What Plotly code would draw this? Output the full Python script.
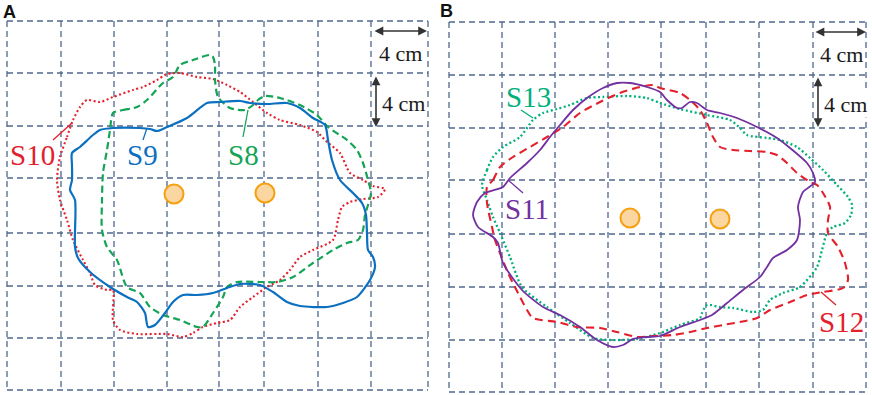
import plotly.graph_objects as go

# ---------------- data (traced coordinates, image units) ----------------
A_grid_x = [7, 61, 114, 167, 219, 264, 318, 371, 428]
A_grid_y = [21, 73, 126, 178, 233, 286, 338, 390]
B_grid_x = [449, 502, 555, 608, 661, 706, 759, 813, 866]
B_grid_y = [22, 75, 128, 180, 234, 287, 340, 392]

S9 = [(72,153),(80,147),(93,135),(100,130),(113,128),(140,128),(150,129),(157,131),(167,127),(187,118),
      (207,103),(220,102),(240,101),(250,103),(267,104),(287,103),(300,108),(313,118),(325,125),(328,140),
      (332,160),(340,180),(353,193),(362,203),(366,215),(367,233),(368,250),(373,257),(375,267),(370,280),
      (357,297),(343,303),(327,307),(300,306),(287,302),(273,292),(260,285),(240,284),(227,288),(213,293),
      (197,295),(183,295),(173,302),(165,313),(155,325),(148,327),(145,313),(137,302),(127,297),(110,287),
      (90,272),(78,258),(75,247),(75,200),(70,190),(72,180),(72,165)]
S8 = [(113,113),(123,110),(137,107),(147,100),(163,83),(173,77),(180,65),(193,60),(210,55),(213,57),
      (215,65),(215,80),(218,97),(230,108),(245,110),(253,105),(258,100),(265,96),(280,98),(300,105),
      (317,115),(328,127),(347,140),(357,150),(363,163),(368,180),(371,193),(368,205),(365,215),(363,230),
      (358,240),(347,243),(333,250),(313,263),(293,277),(277,282),(260,282),(237,282),(227,287),(223,297),
      (213,313),(203,327),(197,327),(180,320),(163,315),(150,307),(140,293),(127,287),(117,260),(107,247),
      (102,230),(102,200),(103,173),(107,150),(110,130)]
S10 = [(60,157),(67,137),(73,120),(80,107),(87,100),(100,102),(113,97),(133,90),(143,87),(157,80),
       (167,74),(180,73),(197,77),(213,79),(227,85),(240,92),(253,102),(267,113),(280,120),(300,125),
       (317,132),(327,142),(340,153),(350,173),(363,180),(373,186),(385,189),(378,197),(363,199),(350,202),
       (342,207),(338,220),(333,240),(313,250),(300,257),(290,270),(280,280),(267,287),(253,297),(240,307),
       (230,320),(217,323),(203,327),(193,333),(183,337),(167,334),(137,334),(120,330),(113,320),(113,290),
       (107,290),(95,285),(90,273),(83,260),(73,240),(67,220),(60,200),(57,180)]
S11 = [(485,193),(503,187),(510,178),(527,163),(540,150),(550,137),(560,125),(573,110),(587,98),(603,88),
       (617,83),(630,83),(647,87),(660,92),(667,100),(677,108),(682,108),(690,102),(697,103),(707,110),
       (720,113),(737,118),(757,127),(777,138),(790,148),(807,163),(813,173),(815,182),(803,192),(798,207),
       (800,220),(797,240),(787,250),(773,258),(767,267),(760,277),(743,290),(727,303),(712,315),(700,320),
       (680,327),(660,336),(647,337),(633,339),(623,345),(613,347),(597,340),(580,327),(560,315),(543,307),
       (522,290),(503,263),(498,243),(493,237),(478,227),(473,215),(477,202)]
S12 = [(487,187),(493,180),(500,167),(513,157),(530,147),(547,137),(563,127),(580,113),(600,102),(620,93),
       (640,87),(653,85),(660,88),(680,93),(690,100),(700,110),(707,123),(713,137),(720,147),(733,150),
       (750,151),(767,152),(777,155),(787,163),(797,173),(810,182),(817,185),(823,193),(830,207),(828,220),
       (828,233),(838,247),(845,263),(848,280),(843,288),(823,292),(807,295),(790,302),(770,310),(757,318),
       (740,322),(723,325),(707,328),(690,332),(673,335),(653,336),(637,337),(617,332),(600,328),(577,327),
       (557,322),(533,318),(527,310),(518,293),(508,273),(500,253),(495,240),(492,227),(487,203)]
S13 = [(482,185),(487,170),(493,157),(503,147),(520,137),(533,120),(543,113),(557,109),(570,105),(587,98),
       (603,97),(627,96),(647,98),(660,103),(680,109),(707,115),(730,120),(740,128),(747,135),(767,138),
       (780,140),(797,147),(810,158),(823,170),(837,185),(848,197),(852,205),(851,215),(845,223),(833,227),
       (827,233),(822,250),(817,267),(800,287),(783,293),(770,300),(763,310),(753,312),(733,308),(720,307),
       (707,305),(702,313),(700,318),(680,325),(660,333),(637,339),(610,340),(593,338),(570,323),(547,307),
       (522,287),(510,257),(500,233),(493,217),(487,200)]

electrodes_x = [174, 265, 630, 720]
electrodes_y = [194, 193, 218, 219]

labels = ["S10", "S9", "S8", "S13", "S11", "S12"]
label_x = [32, 142, 243, 528, 527, 841]
label_y = [153, 153, 153, 95, 207, 320]
leader_x = [(53, 72), (143, 147), (243, 248), (521, 533), (508, 523), (821, 836)]
leader_y = [(140, 123), (140, 128), (137, 110), (110, 118), (180, 193), (292, 305)]

C_BLUE = "#0b70c0"
C_GREEN = "#13a456"
C_RED = "#e3202c"
C_PURPLE = "#7330a0"
C_TEAL = "#00b07c"
GRID = "#51688f"
label_colors = [C_RED, C_BLUE, C_GREEN, C_TEAL, C_PURPLE, C_RED]

fig = go.Figure()

def grid(vx, hy):
    xs, ys = [], []
    for x in vx:
        xs += [x, x, None]; ys += [hy[0], hy[-1], None]
    for y in hy:
        xs += [vx[0], vx[-1], None]; ys += [y, y, None]
    fig.add_trace(go.Scatter(x=xs, y=ys, mode="lines",
                             line=dict(color=GRID, width=1.3, dash="6px,4px"),
                             hoverinfo="skip", showlegend=False))

grid(A_grid_x, A_grid_y)
grid(B_grid_x, B_grid_y)

def contour(pts, color, width, dash):
    xs = [p[0] for p in pts] + [pts[0][0]]
    ys = [p[1] for p in pts] + [pts[0][1]]
    fig.add_trace(go.Scatter(x=xs, y=ys, mode="lines",
                             line=dict(color=color, width=width, dash=dash, shape="spline", smoothing=0.7),
                             hoverinfo="skip", showlegend=False))

contour(S10, C_RED, 2.1, "2px,2.5px")
contour(S8, C_GREEN, 2.2, "7px,4px")
contour(S9, C_BLUE, 2.2, "solid")
contour(S13, C_TEAL, 2.3, "2px,2.5px")
contour(S12, C_RED, 2.1, "8px,5px")
contour(S11, C_PURPLE, 1.8, "solid")

fig.add_trace(go.Scatter(x=electrodes_x, y=electrodes_y, mode="markers",
                         marker=dict(size=19, color="#fcd6a0", line=dict(color="#f5a010", width=2)),
                         hoverinfo="skip", showlegend=False))

for (lx0, lx1), (ly0, ly1), c in zip(leader_x, leader_y, label_colors):
    fig.add_trace(go.Scatter(x=[lx0, lx1], y=[ly0, ly1], mode="lines",
                             line=dict(color=c, width=1.3), hoverinfo="skip", showlegend=False))

for t, x, y, c in zip(labels, label_x, label_y, label_colors):
    fig.add_annotation(x=x, y=y + 2, text=t, showarrow=False, xanchor="center", yanchor="middle",
                       font=dict(family="Liberation Serif", size=29, color=c))

# scale bars
bars = [((373, 31), (427, 31)), ((376, 75), (376, 127)), ((814, 32), (866, 32)), ((818, 76), (818, 127))]
bar_text_x = [400, 403, 841, 845]
bar_text_y = [52, 102, 53, 103]
for (p0, p1) in bars:
    fig.add_annotation(x=p1[0], y=p1[1], ax=p0[0], ay=p0[1], axref="x", ayref="y", xref="x", yref="y",
                       text="", showarrow=True, arrowhead=2, arrowside="end+start", arrowsize=1.1,
                       arrowwidth=1.6, arrowcolor="#333333", standoff=0, startstandoff=0)
for x, y in zip(bar_text_x, bar_text_y):
    fig.add_annotation(x=x, y=y + 1, text="4 cm", showarrow=False, xanchor="center", yanchor="middle",
                       font=dict(family="Liberation Serif", size=22, color="#1a1a1a"),
                       bgcolor="white", borderpad=0)

for t, x, y in zip(["A", "B"], [9, 446], [12, 11]):
    fig.add_annotation(x=x, y=y, text="<b>%s</b>" % t, showarrow=False, xanchor="center", yanchor="middle",
                       font=dict(family="Liberation Sans", size=18, color="#111111"))

fig.update_layout(width=872, height=395, margin=dict(l=0, r=0, t=0, b=0),
                  paper_bgcolor="white", plot_bgcolor="white",
                  xaxis=dict(range=[0, 872], visible=False, fixedrange=True),
                  yaxis=dict(range=[395, 0], visible=False, fixedrange=True))
fig.write_html("out.html", config={"displayModeBar": False},
               post_script="document.body.style.margin='0';document.body.style.overflow='hidden';")
